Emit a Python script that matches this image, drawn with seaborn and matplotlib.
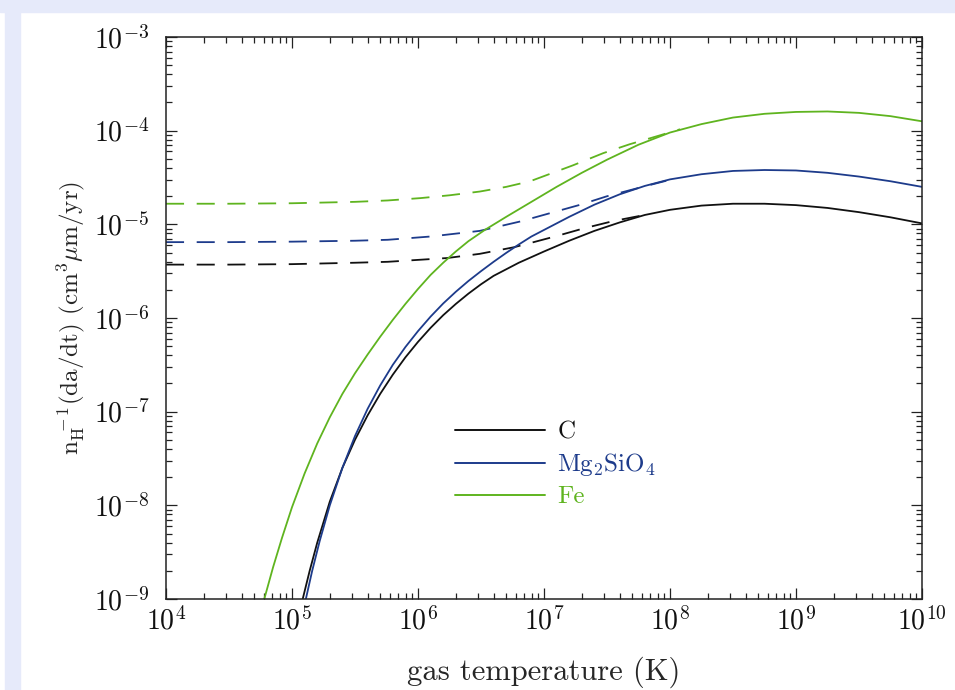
import numpy as np
import matplotlib
matplotlib.use("Agg")
from matplotlib import pyplot as plt
from matplotlib.patches import Rectangle
from matplotlib.lines import Line2D
from matplotlib.ticker import FuncFormatter
import seaborn as sns

# values, in log10 units (log10 T, log10 rate)
# solid curves
c_logT = [5.085, 5.14, 5.20, 5.30, 5.40, 5.50, 5.60, 5.70, 5.80, 5.90, 6.00, 6.10, 6.20,
          6.30, 6.40, 6.50, 6.60, 6.70, 6.80, 6.90, 7.00, 7.20, 7.40, 7.60, 7.80, 8.00,
          8.25, 8.50, 8.75, 9.00, 9.25, 9.50, 9.75, 10.0]
c_logY = [-9.00, -8.70, -8.40, -7.96, -7.60, -7.30, -7.04, -6.81, -6.605, -6.42, -6.255, -6.105, -5.97,
          -5.85, -5.74, -5.64, -5.55, -5.48, -5.41, -5.35, -5.29, -5.175, -5.07, -4.98, -4.90, -4.845,
          -4.80, -4.78, -4.78, -4.795, -4.825, -4.87, -4.925, -4.99]

mg_logT = [5.11, 5.16, 5.22, 5.30, 5.40, 5.50, 5.60, 5.70, 5.80, 5.90, 6.00, 6.10, 6.20,
           6.30, 6.40, 6.50, 6.60, 6.70, 6.80, 6.90, 7.00, 7.20, 7.40, 7.60, 7.80, 8.00,
           8.25, 8.50, 8.75, 9.00, 9.25, 9.50, 9.75, 10.0]
mg_logY = [-9.00, -8.70, -8.38, -8.00, -7.60, -7.26, -6.97, -6.72, -6.50, -6.31, -6.14, -5.985, -5.845,
           -5.72, -5.605, -5.50, -5.40, -5.305, -5.215, -5.13, -5.06, -4.92, -4.79, -4.68, -4.59, -4.52,
           -4.465, -4.43, -4.42, -4.425, -4.45, -4.49, -4.54, -4.60]

fe_logT = [4.78, 4.85, 4.92, 5.00, 5.10, 5.20, 5.30, 5.40, 5.50, 5.60, 5.70, 5.80, 5.90,
           6.00, 6.10, 6.20, 6.30, 6.40, 6.53, 6.70, 6.90, 7.10, 7.30, 7.50, 7.75, 8.00,
           8.25, 8.50, 8.75, 9.00, 9.25, 9.50, 9.75, 10.0]
fe_logY = [-9.00, -8.66, -8.35, -8.02, -7.66, -7.34, -7.06, -6.81, -6.59, -6.39, -6.20, -6.02, -5.85,
           -5.69, -5.54, -5.41, -5.29, -5.18, -5.06, -4.92, -4.76, -4.60, -4.45, -4.31, -4.15, -4.02,
           -3.93, -3.86, -3.82, -3.80, -3.795, -3.81, -3.845, -3.90]

# dashed curves
c_d_logT = [4.00, 4.50, 5.00, 5.50, 5.76, 6.23, 6.49, 6.76, 6.89, 7.10, 7.31, 7.55, 7.76]
c_d_logY = [-5.43, -5.43, -5.425, -5.41, -5.40, -5.36, -5.315, -5.245, -5.20, -5.125, -5.045, -4.965, -4.91]

mg_d_logT = [4.00, 4.50, 5.00, 5.50, 5.76, 6.10, 6.49, 6.81, 7.05, 7.29, 7.50, 7.74, 7.97]
mg_d_logY = [-5.19, -5.19, -5.185, -5.175, -5.165, -5.13, -5.07, -4.97, -4.88, -4.79, -4.70, -4.615, -4.535]

fe_d_logT = [4.00, 4.50, 5.00, 5.50, 5.76, 6.02, 6.25, 6.49, 6.70, 6.89, 7.05, 7.23, 7.47, 7.68, 7.92, 8.08]
fe_d_logY = [-4.78, -4.78, -4.775, -4.76, -4.745, -4.72, -4.69, -4.65, -4.60, -4.54, -4.46, -4.37,
             -4.24, -4.145, -4.05, -3.985]

names = ["C", "Mg$_2$SiO$_4$", "Fe"]
colors = ["#111111", "#1d3b8b", "#5fb41f"]

sns.set_style("ticks")
plt.rcParams["font.family"] = "serif"
plt.rcParams["font.serif"] = ["cmr10", "DejaVu Serif"]
plt.rcParams["mathtext.fontset"] = "cm"
plt.rcParams["axes.formatter.use_mathtext"] = True
plt.rcParams["axes.unicode_minus"] = False

fig = plt.figure(figsize=(9.55, 6.9), dpi=100)
fig.patch.set_facecolor("white")
# light frame seen round the picture
fig.patches.append(Rectangle((5 / 955, 0), 15 / 955, 1, transform=fig.transFigure,
                             color="#e6eafa", zorder=0))
fig.patches.append(Rectangle((0, 1 - 12 / 690), 1, 12 / 690, transform=fig.transFigure,
                             color="#e6eafa", zorder=0))

ax = fig.add_axes([166 / 955, 1 - 599 / 690, 756 / 955, 562 / 690])

solid = [(c_logT, c_logY), (mg_logT, mg_logY), (fe_logT, fe_logY)]
dashed = [(c_d_logT, c_d_logY), (mg_d_logT, mg_d_logY), (fe_d_logT, fe_d_logY)]

for (lx, ly), col in zip(dashed, colors):
    sns.lineplot(x=np.power(10.0, lx), y=np.power(10.0, ly), ax=ax, color=col,
                 linewidth=1.3, linestyle=(0, (10, 7)), sort=False)
for (lx, ly), col in zip(solid, colors):
    sns.lineplot(x=np.power(10.0, lx), y=np.power(10.0, ly), ax=ax, color=col,
                 linewidth=1.3, sort=False)

ax.set_xscale("log")
ax.set_yscale("log")
ax.set_xlim(1e4, 1e10)
ax.set_ylim(1e-9, 1e-3)

fmt = FuncFormatter(lambda v, p: r"$10^{%d}$" % int(round(np.log10(v))))
ax.xaxis.set_major_formatter(fmt)
ax.yaxis.set_major_formatter(fmt)
ax.xaxis.set_minor_formatter(FuncFormatter(lambda v, p: ""))
ax.yaxis.set_minor_formatter(FuncFormatter(lambda v, p: ""))

ax.tick_params(which="both", direction="in", top=True, right=True, width=0.9,
               color="#222222", labelcolor="#111111")
ax.tick_params(which="major", length=8, labelsize=20)
ax.tick_params(which="minor", length=4)
ax.tick_params(axis="x", which="major", pad=6)
ax.tick_params(axis="y", which="major", pad=12)
for s in ax.spines.values():
    s.set_linewidth(1.1)
    s.set_color("#222222")

ax.set_xlabel("gas temperature (K)", fontsize=22, labelpad=15)
ax.set_ylabel(r"n$_{\rm H}^{\ -1}$(da/dt) (cm$^3\mu$m/yr)", fontsize=18, labelpad=5)

handles = [Line2D([], [], color=c, linewidth=1.4) for c in colors]
leg = ax.legend(handles, names, loc="upper left", bbox_to_anchor=(0.382, 0.316),
                frameon=False, fontsize=18, handlelength=3.6, handletextpad=0.5,
                labelspacing=0.3, borderpad=0, borderaxespad=0, labelcolor=colors)

fig.savefig("out.png", dpi=100)
